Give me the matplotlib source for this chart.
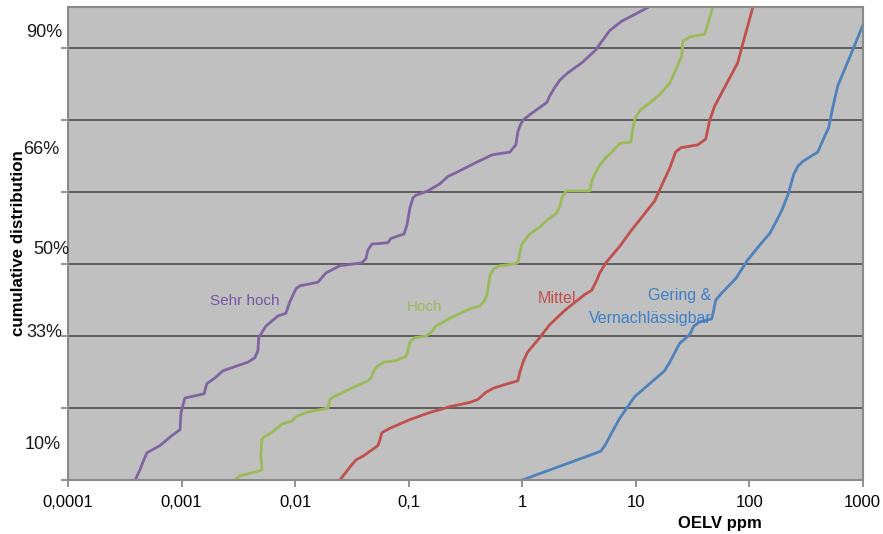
import numpy as np
import matplotlib
matplotlib.use("Agg")
import matplotlib.pyplot as plt
from matplotlib.ticker import FixedLocator, FixedFormatter, NullLocator

# OELV (ppm) against cumulative position (probit units) per hazard band
sehr_hoch_x = [0.00039, 0.00043, 0.000457, 0.000496, 0.000646, 0.000824, 0.00097, 0.00099,
               0.00107, 0.00158, 0.00167, 0.00197, 0.00232, 0.00385, 0.00443, 0.00471,
               0.00479, 0.00553, 0.00706, 0.0083, 0.009, 0.0102, 0.011, 0.0159, 0.0187,
               0.0248, 0.0388, 0.0421, 0.0439, 0.0475, 0.0658, 0.0699, 0.091, 0.0966,
               0.1026, 0.109, 0.116, 0.148, 0.189, 0.222, 0.283, 0.376, 0.48, 0.541, 0.78,
               0.881, 0.917, 0.955, 1.01, 1.17, 1.65, 1.75, 1.98, 2.15, 2.52, 3.35, 4.46,
               4.83, 5.92, 7.55, 10.0, 12.8]
sehr_hoch_y = [-1.5, -1.43, -1.375, -1.31, -1.26, -1.19, -1.15, -1.03, -0.93, -0.90, -0.83,
               -0.79, -0.74, -0.68, -0.65, -0.60, -0.51, -0.43, -0.36, -0.34, -0.26, -0.17,
               -0.15, -0.125, -0.06, -0.01, 0.01, 0.04, 0.10, 0.14, 0.15, 0.18, 0.21, 0.27,
               0.39, 0.46, 0.48, 0.51, 0.56, 0.61, 0.65, 0.70, 0.74, 0.76, 0.78, 0.83, 0.92,
               0.96, 1.0, 1.04, 1.125, 1.17, 1.24, 1.28, 1.33, 1.40, 1.49, 1.53, 1.625,
               1.69, 1.74, 1.785]

hoch_x = [0.00295, 0.00327, 0.00471, 0.0051, 0.005, 0.0051, 0.00532, 0.00625, 0.00766,
          0.00938, 0.0102, 0.0125, 0.0166, 0.0195, 0.0203, 0.022, 0.0317, 0.0439, 0.0475,
          0.0495, 0.0526, 0.0607, 0.0773, 0.0947, 0.0986, 0.1026, 0.114, 0.142, 0.16,
          0.174, 0.231, 0.347, 0.425, 0.46, 0.489, 0.5, 0.52, 0.564, 0.637, 0.812, 0.917,
          0.955, 0.995, 1.17, 1.43, 1.68, 1.98, 2.15, 2.24, 2.43, 3.95, 4.11, 4.46, 4.83,
          5.46, 6.17, 7.25, 9.06, 9.44, 9.82, 10.9, 13.3, 16.3, 20.0, 22.5, 25.5, 26.0,
          29.9, 40.6, 44.0, 47.7]
hoch_y = [-1.5, -1.47, -1.44, -1.43, -1.33, -1.22, -1.20, -1.17, -1.11, -1.09, -1.06,
          -1.03, -1.01, -1.0, -0.94, -0.92, -0.86, -0.81, -0.78, -0.74, -0.71, -0.68,
          -0.67, -0.64, -0.60, -0.54, -0.51, -0.50, -0.47, -0.43, -0.375, -0.31, -0.29,
          -0.26, -0.215, -0.17, -0.08, -0.03, -0.01, 0.0, 0.01, 0.08, 0.14, 0.21, 0.26,
          0.31, 0.35, 0.40, 0.46, 0.51, 0.51, 0.58, 0.64, 0.69, 0.74, 0.78, 0.84, 0.85,
          0.94, 1.01, 1.07, 1.12, 1.18, 1.26, 1.35, 1.45, 1.55, 1.58, 1.60, 1.69, 1.785]

mittel_x = [0.0248, 0.0304, 0.0344, 0.0404, 0.0537, 0.056, 0.0582, 0.0685, 0.1026, 0.154,
            0.231, 0.347, 0.407, 0.48, 0.564, 0.749, 0.917, 0.955, 1.03, 1.12, 1.43, 1.75,
            2.38, 3.56, 4.11, 4.55, 4.83, 5.46, 7.25, 9.25, 10.9, 14.7, 17.7, 20.0, 22.5,
            25.0, 35.2, 41.4, 44.9, 49.7, 79.2, 87.7, 107.6]
mittel_y = [-1.5, -1.41, -1.36, -1.33, -1.26, -1.22, -1.17, -1.14, -1.08, -1.03, -0.99,
            -0.96, -0.94, -0.89, -0.86, -0.83, -0.81, -0.75, -0.67, -0.61, -0.51, -0.42,
            -0.32, -0.21, -0.18, -0.11, -0.06, 0.01, 0.125, 0.24, 0.31, 0.44, 0.58, 0.67,
            0.78, 0.81, 0.83, 0.87, 1.0, 1.10, 1.40, 1.53, 1.785]

gering_x = [1.0, 4.93, 5.46, 6.17, 7.25, 9.82, 13.3, 18.0, 20.0, 24.4, 29.9, 32.5, 36.7,
            46.8, 48.7, 50.7, 57.3, 76.1, 97.0, 129, 152, 171, 194, 219, 247, 268, 297,
            402, 445, 502, 545, 603, 817, 1000]
gering_y = [-1.5, -1.30, -1.25, -1.17, -1.07, -0.92, -0.83, -0.74, -0.68, -0.55, -0.49,
            -0.43, -0.40, -0.38, -0.32, -0.25, -0.20, -0.10, 0.03, 0.15, 0.215, 0.29,
            0.375, 0.48, 0.625, 0.68, 0.715, 0.78, 0.86, 0.95, 1.09, 1.24, 1.49, 1.66]

x_ticks = [0.0001, 0.001, 0.01, 0.1, 1, 10, 100, 1000]
x_tick_labels = ["0,0001", "0,001", "0,01", "0,1", "1", "10", "100", "1000"]
y_grid = [-1.5, -1.0, -0.5, 0.0, 0.5, 1.0, 1.5]

pct_labels = ["90%", "66%", "50%", "33%", "10%"]
pct_pos = [1.608, 0.80, 0.104, -0.472, -1.25]
pct_shift = [-4, -6, 1, -4, -5]   # horizontal offset in points from the axis

plt.rcParams['font.family'] = ['Liberation Sans', 'DejaVu Sans']

fig = plt.figure(figsize=(8.83, 5.34), dpi=100)
ax = fig.add_axes([0.077, 0.101, 0.9, 0.885])
ax.set_facecolor("#c0c0c0")

ax.plot(sehr_hoch_x, sehr_hoch_y, color="#8064a2", lw=2.0, solid_joinstyle="round")
ax.plot(hoch_x, hoch_y, color="#9bbb59", lw=2.0, solid_joinstyle="round")
ax.plot(mittel_x, mittel_y, color="#c0504d", lw=2.0, solid_joinstyle="round")
ax.plot(gering_x, gering_y, color="#4f81bd", lw=2.0, solid_joinstyle="round")

ax.set_xscale("log")
ax.set_xlim(1e-4, 1e3)
ax.set_ylim(-1.5, 1.785)
ax.xaxis.set_major_locator(FixedLocator(x_ticks))
ax.xaxis.set_major_formatter(FixedFormatter(x_tick_labels))
ax.xaxis.set_minor_locator(NullLocator())
ax.set_yticks(y_grid)
ax.set_yticklabels([])
ax.tick_params(axis="x", direction="out", length=5, width=1.2, color="#808080",
               labelsize=12, pad=6)
ax.tick_params(axis="y", direction="out", length=5, width=1.2, color="#808080")
ax.grid(axis="y", color="#555555", lw=1.3)
ax.set_axisbelow(True)
for s in ax.spines.values():
    s.set_color("#8a8a8a")
    s.set_linewidth(1.5)

# percentage markers on the left
for lab, yv, dx in zip(pct_labels, pct_pos, pct_shift):
    ax.annotate(lab, xy=(0, yv), xycoords=ax.get_yaxis_transform(),
                xytext=(dx, 0), textcoords="offset points", ha="right",
                va="center", fontsize=13, color="#1a1a1a")

ax.text(0.00362, -0.257, "Sehr hoch", color="#7a55a8", fontsize=11, ha="center", va="center")
ax.text(0.137, -0.30, "Hoch", color="#9bbb59", fontsize=11, ha="center", va="center")
ax.text(2.02, -0.236, "Mittel", color="#c0504d", fontsize=11.5, ha="center", va="center")
ax.text(24.4, -0.22, "Gering &", color="#3d7fc9", fontsize=11.5, ha="center", va="center")
ax.text(13.6, -0.38, "Vernachlässigbar", color="#3d7fc9", fontsize=11.5, ha="center",
        va="center")

fig.text(0.021, 0.545, "cumulative distribution", rotation=90, fontsize=12.2,
         fontweight="bold", ha="center", va="center")
fig.text(0.815, 0.02, "OELV ppm", fontsize=12, fontweight="bold", ha="center",
         va="center")

fig.savefig("out.png", dpi=100)
